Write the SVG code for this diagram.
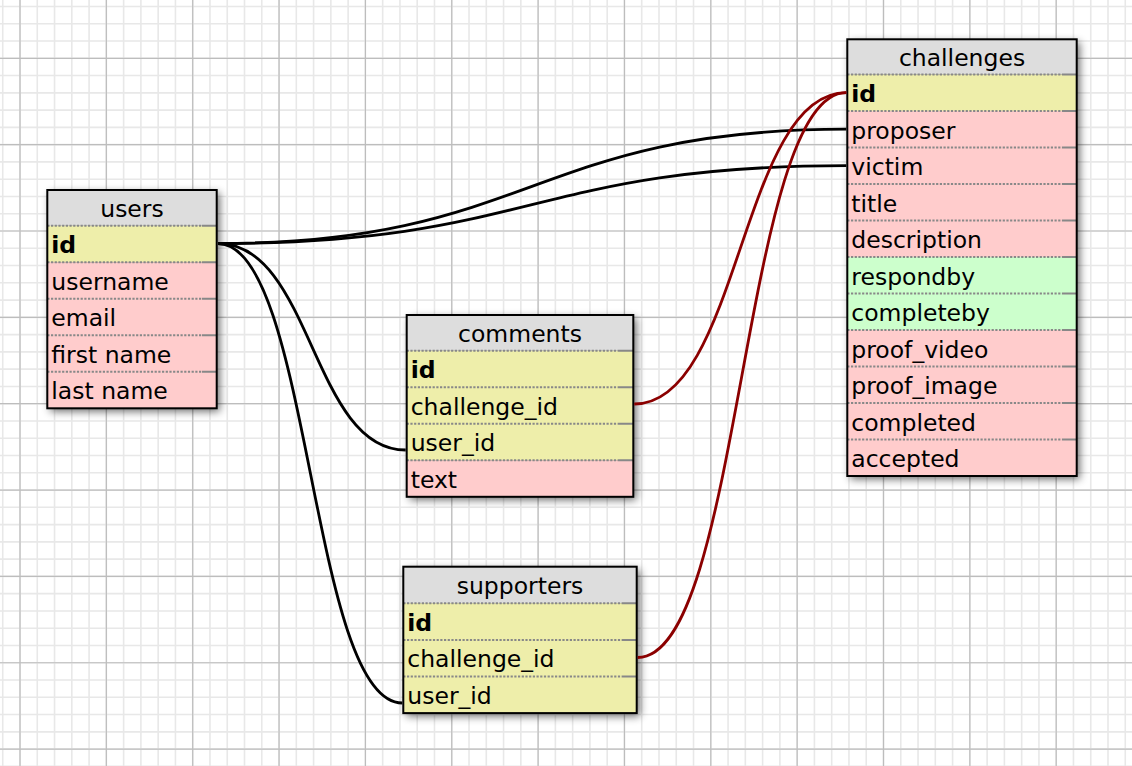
<svg xmlns="http://www.w3.org/2000/svg" width="1132" height="766" viewBox="0 0 1132 766">
<defs>
<style>
.hdr{fill:#dddddd}
.y{fill:#eeeeaa}
.p{fill:#ffcccc}
.g{fill:#ccffcc}
.sep{stroke:#888888;stroke-width:2;stroke-dasharray:2.2 1.5;fill:none}
.sepe{stroke:#888888;stroke-width:2;fill:none}
.frame{fill:none;stroke:#000;stroke-width:2}
.sh{fill:#000}
text{font-family:"DejaVu Sans",Verdana,sans-serif;font-size:23.5px;fill:#000}
.h{text-anchor:middle}
.k{font-weight:bold}
.rel{fill:none;stroke-width:2.8}
.b{stroke:#000}
.r{stroke:#8b0000}
</style>
<filter id="shadow" x="-20%" y="-20%" width="150%" height="150%">
<feGaussianBlur in="SourceAlpha" stdDeviation="4"/>
<feOffset dx="3" dy="3" result="o"/>
<feComponentTransfer><feFuncA type="linear" slope="0.6"/></feComponentTransfer>
</filter>
</defs>
<rect width="1132" height="766" fill="#fff"/>
<g id="grid">
<line x1="0" y1="383" x2="1132" y2="383" stroke="#e8e8e8" stroke-width="766" stroke-dasharray="1.6 15.67" stroke-dashoffset="15.34"/>
<line x1="566" y1="0" x2="566" y2="766" stroke="#e8e8e8" stroke-width="1132" stroke-dasharray="1.6 15.67" stroke-dashoffset="11.58"/>
<line x1="0" y1="383" x2="1132" y2="383" stroke="#bdbdbd" stroke-width="766" stroke-dasharray="1.2 85.15" stroke-dashoffset="66.95"/>
<line x1="566" y1="0" x2="566" y2="766" stroke="#bdbdbd" stroke-width="1132" stroke-dasharray="1.2 85.15" stroke-dashoffset="28.65"/>
</g>

<g id="users">
<rect class="sh" x="47.3" y="190" width="169.4" height="218.3" filter="url(#shadow)"/>
<rect class="hdr" x="47.3" y="190" width="169.4" height="35.8"/>
<rect class="y" x="47.3" y="225.8" width="169.4" height="36.5"/>
<rect class="p" x="47.3" y="262.3" width="169.4" height="146"/>
<path class="sep" d="M47.3,225.8H202M47.3,262.3H202M47.3,298.8H202M47.3,335.3H202M47.3,371.8H202"/>
<path class="sepe" d="M202,225.8H216.7M202,262.3H216.7M202,298.8H216.7M202,335.3H216.7M202,371.8H216.7"/>
<rect class="frame" x="47.3" y="190" width="169.4" height="218.3"/>
<text class="h" x="132" y="216.8">users</text>
<text class="k" x="51.3" y="253.3">id</text>
<text x="51.3" y="289.8">username</text>
<text x="51.3" y="326.3">email</text>
<text x="51.3" y="362.8">first name</text>
<text x="51.3" y="399.3">last name</text>
</g>

<g id="comments">
<rect class="sh" x="406.7" y="315" width="226.6" height="181.8" filter="url(#shadow)"/>
<rect class="hdr" x="406.7" y="315" width="226.6" height="35.8"/>
<rect class="y" x="406.7" y="350.8" width="226.6" height="109.5"/>
<rect class="p" x="406.7" y="460.3" width="226.6" height="36.5"/>
<path class="sep" d="M406.7,350.8H619M406.7,387.3H619M406.7,423.8H619M406.7,460.3H619"/>
<path class="sepe" d="M619,350.8H633.3M619,387.3H633.3M619,423.8H633.3M619,460.3H633.3"/>
<rect class="frame" x="406.7" y="315" width="226.6" height="181.8"/>
<text class="h" x="520" y="341.8">comments</text>
<text class="k" x="410.7" y="378.3">id</text>
<text x="410.7" y="414.8">challenge_id</text>
<text x="410.7" y="451.3">user_id</text>
<text x="410.7" y="487.8">text</text>
</g>

<g id="challenges">
<rect class="sh" x="847.3" y="39.3" width="229.4" height="436.7" filter="url(#shadow)"/>
<rect class="hdr" x="847.3" y="39.3" width="229.4" height="35.2"/>
<rect class="y" x="847.3" y="74.5" width="229.4" height="36.5"/>
<rect class="p" x="847.3" y="111" width="229.4" height="146"/>
<rect class="g" x="847.3" y="257" width="229.4" height="73"/>
<rect class="p" x="847.3" y="330" width="229.4" height="146"/>
<path class="sep" d="M847.3,74.5H1062M847.3,111H1062M847.3,147.5H1062M847.3,184H1062M847.3,220.5H1062M847.3,257H1062M847.3,293.5H1062M847.3,330H1062M847.3,366.5H1062M847.3,403H1062M847.3,439.5H1062"/>
<path class="sepe" d="M1062,74.5H1076.7M1062,111H1076.7M1062,147.5H1076.7M1062,184H1076.7M1062,220.5H1076.7M1062,257H1076.7M1062,293.5H1076.7M1062,330H1076.7M1062,366.5H1076.7M1062,403H1076.7M1062,439.5H1076.7"/>
<rect class="frame" x="847.3" y="39.3" width="229.4" height="436.7"/>
<text class="h" x="962" y="66.1">challenges</text>
<text class="k" x="851.3" y="102">id</text>
<text x="851.3" y="138.5">proposer</text>
<text x="851.3" y="175">victim</text>
<text x="851.3" y="211.5">title</text>
<text x="851.3" y="248">description</text>
<text x="851.3" y="284.5">respondby</text>
<text x="851.3" y="321">completeby</text>
<text x="851.3" y="357.5">proof_video</text>
<text x="851.3" y="394">proof_image</text>
<text x="851.3" y="430.5">completed</text>
<text x="851.3" y="467">accepted</text>
</g>

<g id="supporters">
<rect class="sh" x="403.3" y="566.7" width="233.4" height="146.4" filter="url(#shadow)"/>
<rect class="hdr" x="403.3" y="566.7" width="233.4" height="36.5"/>
<rect class="y" x="403.3" y="603.2" width="233.4" height="109.9"/>
<path class="sep" d="M403.3,603.2H622M403.3,639.9H622M403.3,676.5H622"/>
<path class="sepe" d="M622,603.2H636.7M622,639.9H636.7M622,676.5H636.7"/>
<rect class="frame" x="403.3" y="566.7" width="233.4" height="146.4"/>
<text class="h" x="520" y="593.5">supporters</text>
<text class="k" x="407.3" y="630.5">id</text>
<text x="407.3" y="667.2">challenge_id</text>
<text x="407.3" y="703.8">user_id</text>
</g>

<g id="connectors">
<path class="rel b" d="M218,243.5 C532,243.5 532,129.2 846.3,129.2"/>
<path class="rel b" d="M218,243.5 C532,243.5 532,165.7 846.3,165.7"/>
<path class="rel b" d="M218,243.5 C312,243.5 312,450 405.7,450"/>
<path class="rel b" d="M218,243.5 C310.5,243.5 310.5,703 402.3,703"/>
<path class="rel r" d="M634.3,404 C740.3,404 740.3,92.7 846.3,92.7"/>
<path class="rel r" d="M637.7,657.5 C742,657.5 742,92.7 846.3,92.7"/>
</g>
</svg>
